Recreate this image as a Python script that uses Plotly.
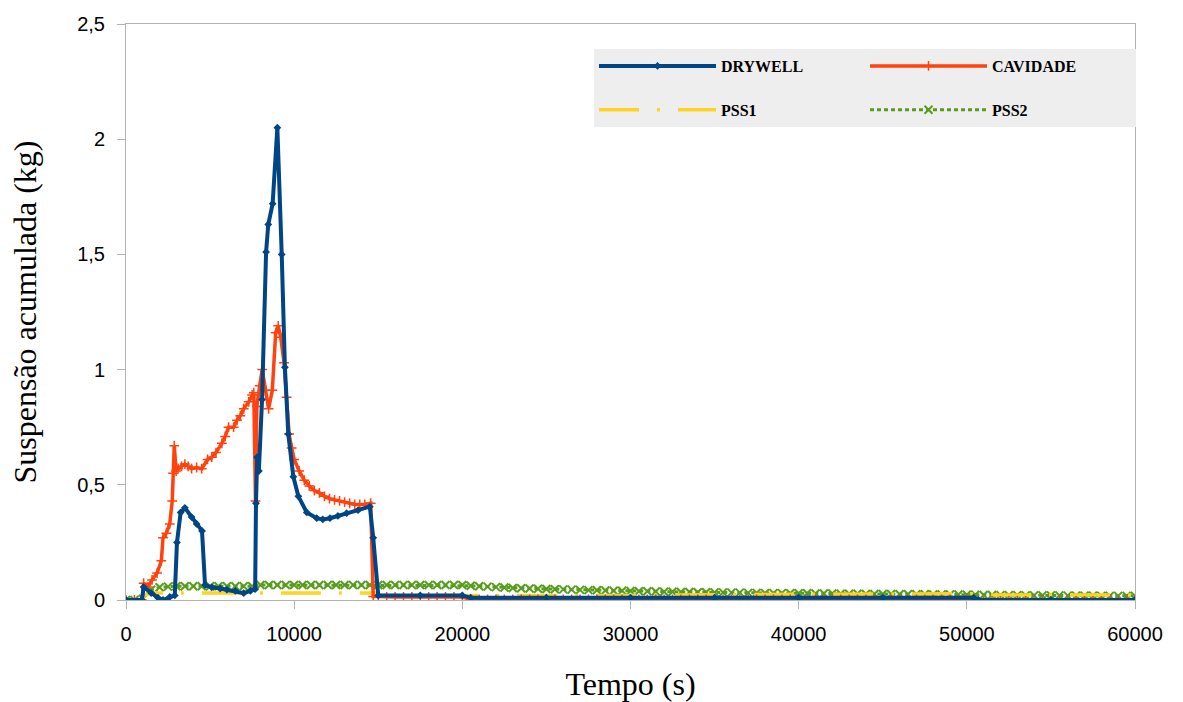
import plotly.graph_objects as go

# ---------------- data ----------------
# DRYWELL (kg) - breakpoints
DRY_T = [0, 950, 1050, 1500, 1900, 2200, 2600, 2900, 3030, 3250, 3500, 3900, 4200, 4520,
         4700, 5100, 5600, 6000, 6500, 7000, 7400, 7680, 7730, 7800, 7900, 8090, 8330,
         8460, 8720, 9000, 9260, 9450, 9650, 9950, 10250, 10750, 11340, 11700, 12130,
         12600, 13120, 13800, 14500, 14700, 15000, 17500, 20000, 20500, 25000, 30000,
         35000, 40000, 45000, 50400, 50700, 55000, 60000]
DRY_V = [0, 0, 0.056, 0.03, 0.01, 0.0, 0.013, 0.02, 0.25, 0.38, 0.40, 0.36, 0.33, 0.30,
         0.065, 0.055, 0.05, 0.045, 0.04, 0.03, 0.04, 0.047, 0.42, 0.62, 0.56, 0.87, 1.51,
         1.63, 1.72, 2.05, 1.50, 1.01, 0.72, 0.535, 0.45, 0.38, 0.355, 0.35, 0.355,
         0.365, 0.377, 0.39, 0.405, 0.27, 0.02, 0.02, 0.02, 0.01, 0.01, 0.01,
         0.01, 0.01, 0.01, 0.01, 0.0, 0.0, 0.0]

# CAVIDADE (kg)
CAV_T = [0, 500, 950, 1050, 1300, 1550, 1850, 2100, 2200, 2400, 2600, 2750, 2800, 2870,
         2980, 3100, 3300, 3500, 3700, 3900, 4200, 4500, 4850, 5100, 5350, 5700, 5900,
         6100, 6400, 6600, 6800, 7000, 7300, 7500, 7600, 7700, 7780, 7950, 8100, 8300,
         8480, 8700, 8900, 9050, 9200, 9400, 9550, 9700, 9850, 10000, 10300, 10600,
         10900, 11200, 11500, 11800, 12100, 12400, 12700, 13000, 13300, 13600, 13900,
         14200, 14550, 14700,
         15000, 15500, 16000, 16500, 17000, 17500, 18000, 18500, 19000, 19500, 20000,
         20500, 21000, 21500, 22000, 22500, 23000, 23500, 24000, 24500, 25000, 25500,
         26000, 26500, 27000, 27500, 28000, 28500, 29000, 29500, 30000, 30500, 31000,
         31500, 32000, 32500, 33000, 33500, 34000, 34500, 35000, 35500, 36000, 36500,
         37000, 37500, 38000, 38500, 39000, 39500, 40000, 40500, 41000, 41500, 42000,
         42500, 43000, 43500, 44000, 44500, 45000, 45500, 46000, 46500, 47000, 47500,
         48000, 48500, 49000, 49500, 50000, 50500, 51000, 51500, 52000, 52500, 53000,
         53500, 54000, 54500, 55000, 55500, 56000, 56500, 57000, 57500, 58000, 58500,
         59000, 59500, 60000]
CAV_V = [0, 0, 0, 0.073, 0.056, 0.087, 0.117, 0.17, 0.27, 0.29, 0.33, 0.43, 0.55, 0.67,
         0.56, 0.57, 0.58, 0.59, 0.58, 0.57, 0.575, 0.57, 0.61, 0.62, 0.64, 0.68, 0.71,
         0.75, 0.75, 0.78, 0.80, 0.83, 0.86, 0.89, 0.90, 0.43, 0.84, 0.93, 1.0, 0.91,
         0.83, 0.91, 1.16, 1.19, 1.14, 1.03, 0.88, 0.72, 0.66, 0.61, 0.56, 0.52,
         0.495, 0.475, 0.465, 0.45, 0.44, 0.435, 0.43, 0.425, 0.42, 0.415, 0.415,
         0.415, 0.42, 0.015,
         0.015, 0.013, 0.013, 0.013, 0.013, 0.013, 0.013, 0.013, 0.013, 0.013, 0.013,
         0.003, 0.003, 0.003, 0.003, 0.003, 0.003, 0.003, 0.003, 0.003, 0.003, 0.003,
         0.003, 0.003, 0.003, 0.003, 0.003, 0.003, 0.003, 0.003, 0.003, 0.003, 0.003,
         0.003, 0.003, 0.003, 0.003, 0.003, 0.003, 0.003, 0.003, 0.003, 0.003, 0.003,
         0.003, 0.003, 0.003, 0.003, 0.003, 0.003, 0.003, 0.003, 0.003, 0.003, 0.003,
         0.003, 0.003, 0.003, 0.003, 0.003, 0.003, 0.003, 0.003, 0.003, 0.003, 0.003,
         0.003, 0.003, 0.003, 0.003, 0.003, 0.003, -0.004, -0.004, -0.004, -0.004, -0.004,
         -0.004, -0.004, -0.004, -0.004, -0.004, -0.004, -0.004, -0.004, -0.004, -0.004,
         -0.004, -0.004, -0.004, -0.004]

# PSS1 (kg)
PSS1_T = [0, 950, 1100, 1500, 5000, 10000, 14800, 15000, 20000, 20500, 30000, 40000,
          50500, 50800, 60000]
PSS1_V = [0, 0, 0.02, 0.03, 0.03, 0.03, 0.03, 0.02, 0.02, 0.017, 0.02, 0.025,
          0.027, 0.022, 0.022]

# PSS2 (kg)
PSS2_T = [0, 500, 1000, 1500, 2000, 2500, 3000, 3500, 4000, 4500, 5000, 5500, 6000,
          6500, 7000, 7500, 8000, 8500, 9000, 9500, 10000, 10500, 11000, 11500, 12000,
          12500, 13000, 13500, 14000, 14500, 15000, 15500, 16000, 16500, 17000, 17500,
          18000, 18500, 19000, 19500, 20000, 20500, 21000, 21500, 22000, 22500, 23000,
          23500, 24000, 24500, 25000, 25500, 26000, 26500, 27000, 27500, 28000, 28500,
          29000, 29500, 30000, 30500, 31000, 31500, 32000, 32500, 33000, 33500, 34000,
          34500, 35000, 35500, 36000, 36500, 37000, 37500, 38000, 38500, 39000, 39500,
          40000, 40500, 41000, 41500, 42000, 42500, 43000, 43500, 44000, 44500, 45000,
          45500, 46000, 46500, 47000, 47500, 48000, 48500, 49000, 49500, 50000, 50500,
          51000, 51500, 52000, 52500, 53000, 53500, 54000, 54500, 55000, 55500, 56000,
          56500, 57000, 57500, 58000, 58500, 59000, 59500, 60000]
PSS2_V = [0, 0, 0.005, 0.045, 0.055, 0.058, 0.06, 0.06, 0.06, 0.06, 0.06, 0.06, 0.06,
          0.06, 0.06, 0.06, 0.065, 0.065, 0.065, 0.065, 0.065, 0.065, 0.065, 0.065, 0.065,
          0.065, 0.065, 0.065, 0.065, 0.065, 0.065, 0.065, 0.065, 0.065, 0.065, 0.065,
          0.065, 0.065, 0.065, 0.065, 0.065, 0.062, 0.06, 0.058, 0.056, 0.054, 0.052,
          0.051, 0.05, 0.049, 0.048, 0.047, 0.046, 0.045, 0.044, 0.043, 0.042, 0.041,
          0.04, 0.04, 0.039, 0.038, 0.038, 0.037, 0.036, 0.036, 0.035, 0.035, 0.034,
          0.034, 0.033, 0.033, 0.032, 0.032, 0.031, 0.031, 0.03, 0.03, 0.03, 0.029,
          0.029, 0.029, 0.028, 0.028, 0.028, 0.027, 0.027, 0.027, 0.026, 0.026, 0.026,
          0.026, 0.025, 0.025, 0.025, 0.025, 0.024, 0.024, 0.024, 0.024, 0.023, 0.023,
          0.022, 0.022, 0.021, 0.021, 0.021, 0.02, 0.02, 0.02, 0.02, 0.02, 0.019,
          0.019, 0.019, 0.019, 0.018, 0.018, 0.018, 0.018, 0.018]

X_TICKS = [0, 10000, 20000, 30000, 40000, 50000, 60000]
X_TICKTEXT = ["0", "10000", "20000", "30000", "40000", "50000", "60000"]
Y_TICKS = [0, 0.5, 1, 1.5, 2, 2.5]
Y_TICKTEXT = ["0", "0,5", "1", "1,5", "2", "2,5"]

BLUE, RED, YELLOW, GREEN = "#004586", "#ff420e", "#ffd320", "#579d1c"

fig = go.Figure()
fig.add_trace(go.Scatter(
    x=PSS2_T, y=PSS2_V, name="PSS2", mode="lines+markers", legendgroup="g4", legendrank=4,
    line=dict(color=GREEN, width=3, dash="4px,3px"),
    marker=dict(symbol="x-thin", size=8, line=dict(color=GREEN, width=2), color=GREEN)))
fig.add_trace(go.Scatter(
    x=PSS1_T, y=PSS1_V, name="PSS1", mode="lines", legendgroup="g3", legendrank=3,
    line=dict(color=YELLOW, width=3.5, dash="40px,18px,3px,18px")))
fig.add_trace(go.Scatter(
    x=CAV_T, y=CAV_V, name="CAVIDADE", mode="lines+markers", legendgroup="g2", legendrank=2,
    line=dict(color=RED, width=3.5),
    marker=dict(symbol="cross-thin", size=7, line=dict(color=RED, width=1.5), color=RED)))
fig.add_trace(go.Scatter(
    x=DRY_T, y=DRY_V, name="DRYWELL", mode="lines+markers", legendgroup="g1", legendrank=1,
    line=dict(color=BLUE, width=4),
    marker=dict(symbol="diamond", size=6, color=BLUE)))

axis_common = dict(showline=True, linecolor="#b3b3b3", linewidth=1, mirror=True,
                   ticks="outside", ticklen=8, tickcolor="#b3b3b3", tickwidth=1,
                   showgrid=False, zeroline=False,
                   tickfont=dict(family="Liberation Sans", size=20, color="#000000"))

fig.update_layout(
    width=1183, height=702,
    margin=dict(l=126, r=48, t=24, b=102, autoexpand=False),
    paper_bgcolor="white", plot_bgcolor="white",
    xaxis=dict(range=[0, 60000], tickvals=X_TICKS, ticktext=X_TICKTEXT,
               ticklabelstandoff=8,
               title=dict(text="Tempo (s)", standoff=28,
                          font=dict(family="Liberation Serif", size=32, color="#000000")),
               **axis_common),
    yaxis=dict(range=[0, 2.5], tickvals=Y_TICKS, ticktext=Y_TICKTEXT,
               ticklabelstandoff=8,
               title=dict(text="Suspensão acumulada (kg)", standoff=30,
                          font=dict(family="Liberation Serif", size=32, color="#000000")),
               **axis_common),
    legend=dict(orientation="h", traceorder="grouped", x=1.001, xanchor="right",
                y=0.9566, yanchor="top", bgcolor="#eeeeee", borderwidth=0,
                itemwidth=117, entrywidth=139, tracegroupgap=20,
                font=dict(family="Liberation Serif", size=16, color="#000000", weight="bold")),
    showlegend=True,
)

fig.write_html("out.html")
